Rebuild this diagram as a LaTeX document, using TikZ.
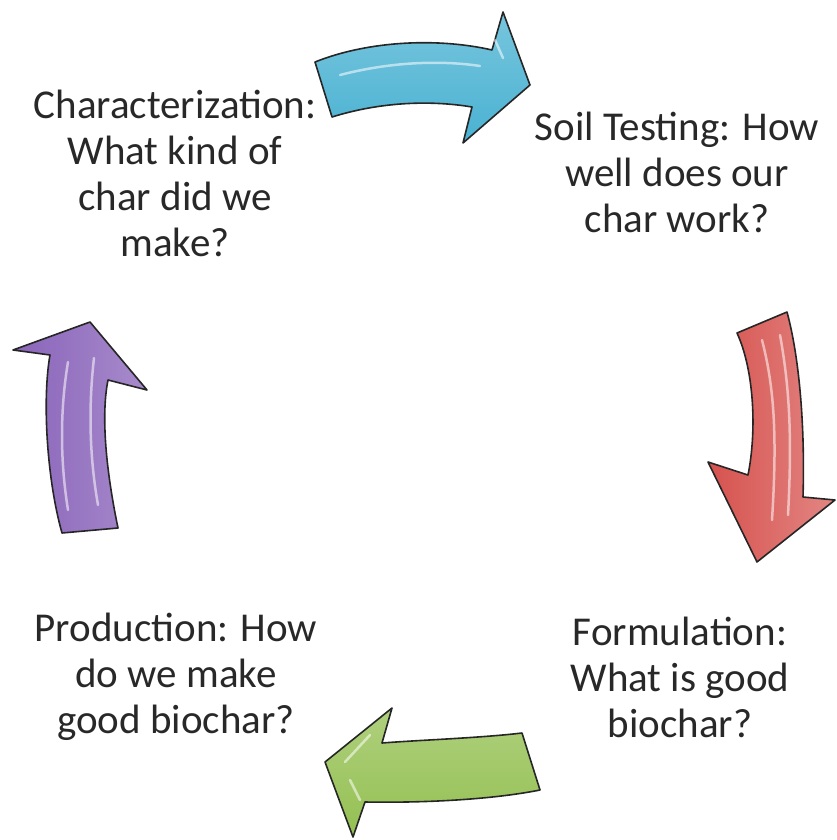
\documentclass[tikz,border=0pt]{standalone}
\usepackage{fontspec}
\setmainfont{Carlito}
\usepackage{tikz}
\usetikzlibrary{calc}

\definecolor{arrowblue}{RGB}{74,178,210}
\definecolor{arrowred}{RGB}{214,82,78}
\definecolor{arrowgreen}{RGB}{148,192,82}
\definecolor{arrowpurple}{RGB}{138,100,186}
\definecolor{textgray}{RGB}{40,40,40}

\begin{document}
\begin{tikzpicture}[x=1pt, y=-1pt,
   step text/.style={align=center, text=textgray, font=\fontsize{41}{46}\selectfont},
   cycle arrow/.style={draw=black!85, line width=1.6pt, line join=round},
   shine/.style={white, opacity=0.55, line width=2.5pt, line cap=round}]
   \useasboundingbox (0,0) rectangle (837,840);

   \node[step text] (char) at (175,173) {Characterization:\\What kind of\\char did we\\make?};
   \node[step text] (soil) at (677,172) {Soil Testing: How\\well does our\\char work?};
   \node[step text] (form) at (680,677) {Formulation:\\What is good\\biochar?};
   \node[step text] (prod) at (176,677) {Production: How\\do we make\\good biochar?};

   % top arrow
   \draw[cycle arrow, top color=arrowblue!75, bottom color=arrowblue]
      (315,62) .. controls (370,40) and (440,38) .. (492,50)
      -- (503,12) -- (530,85) -- (463,143) -- (472,107)
      .. controls (430,100) and (380,102) .. (332,117) -- cycle;
   \draw[shine] (340,75) .. controls (390,62) and (440,60) .. (480,66);
   \draw[shine] (495,40) -- (503,58);

   % right arrow
   \draw[cycle arrow, left color=arrowred, right color=arrowred!70]
      (737,333) -- (787,312)
      .. controls (800,360) and (805,430) .. (803,497)
      -- (835,500) -- (757,562) -- (708,462) -- (748,475)
      .. controls (757,430) and (754,370) .. (737,333) -- cycle;
   \draw[shine] (762,340) .. controls (775,390) and (777,440) .. (772,520);
   \draw[shine] (780,335) .. controls (790,390) and (792,440) .. (788,515);

   % bottom arrow
   \draw[cycle arrow, top color=arrowgreen!75, bottom color=arrowgreen]
      (522,733) .. controls (480,738) and (420,740) .. (382,743)
      -- (392,708) -- (325,762) -- (353,837) -- (365,802)
      .. controls (420,803) and (490,800) .. (540,790) -- cycle;
   \draw[shine] (345,762) -- (370,735);
   \draw[shine] (350,780) -- (360,800);

   % left arrow
   \draw[cycle arrow, left color=arrowpurple, right color=arrowpurple!75]
      (118,528) -- (62,533)
      .. controls (47,480) and (42,400) .. (50,355)
      -- (13,350) -- (90,322) -- (147,390) -- (108,380)
      .. controls (100,420) and (108,480) .. (118,528) -- cycle;
   \draw[shine] (68,510) .. controls (60,460) and (60,410) .. (68,362);
   \draw[shine] (98,505) .. controls (90,460) and (88,410) .. (94,358);
\end{tikzpicture}
\end{document}
